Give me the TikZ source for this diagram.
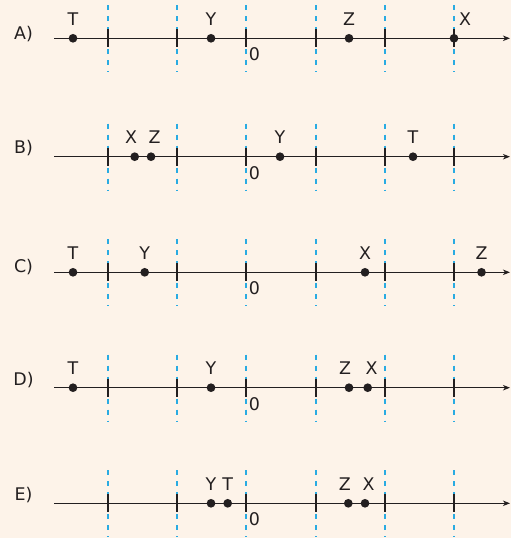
\documentclass[tikz,border=0pt]{standalone}
\usepackage{fontspec}
\setmainfont{DejaVu Sans}
\usetikzlibrary{arrows.meta,positioning}
\definecolor{paper}{HTML}{FDF3E9}
\definecolor{ink}{HTML}{231F20}
\definecolor{guide}{HTML}{29ABE2}
\tikzset{
  axis/.style={-{Stealth[length=7bp,width=5.5bp,inset=2bp]},draw=ink,line width=1.2bp},
  tickmark/.style={draw=ink,line width=1.8bp},
  guideline/.style={draw=guide,line width=1.4bp,dash pattern=on 5bp off 6bp},
  pt/.style={circle,fill=ink,minimum size=8.7bp,inner sep=0pt},
  ptname/.style={font=\fontsize{17.5}{20}\selectfont,text=ink,inner sep=0pt},
  rowname/.style={ptname},
}

\begin{document}
\begin{tikzpicture}[x=1bp,y=-1bp]
\fill[paper] (0,0) rectangle (511,538);
\useasboundingbox (0,0) rectangle (511,538);
% the five number lines
\foreach \r/\y/\ly in {A/38.3/34.2,B/156.7/148.3,C/272.3/266.7,D/387.7/380.5,E/503.3/495.3}{
  \coordinate (\r-left) at (54,\y);
  \coordinate (\r-right) at (510,\y);
  \foreach \t in {108,177,246,316,385,454}
    \draw[guideline] (\t,\y-33) -- (\t,\y+34);
  \draw[axis] (\r-left) -- (\r-right);
  \foreach \t in {108,177,246,316,385,454}
    \draw[tickmark] (\t,\y-9) -- (\t,\y+9);
  \node[ptname] (\r-zero) at (254.5,\y+16) {0};
  \node[rowname] (\r-name) at (23.5,\ly) {\r)};
}
% A
\node[pt] (A-T) at (73,38.3) {};
\node[ptname,above=8bp of A-T] (A-T-name) {T};
\node[pt] (A-Y) at (211,38.3) {};
\node[ptname,above=8bp of A-Y] (A-Y-name) {Y};
\node[pt] (A-Z) at (349,38.3) {};
\node[ptname,above=8bp of A-Z] (A-Z-name) {Z};
\node[pt] (A-X) at (454,38.3) {};
\node[ptname,above=8bp of A-X,xshift=11bp] (A-X-name) {X};
% B
\node[pt] (B-X) at (134.7,156.7) {};
\node[ptname,above=8bp of B-X,xshift=-3.5bp] (B-X-name) {X};
\node[pt] (B-Z) at (151,156.7) {};
\node[ptname,above=8bp of B-Z,xshift=3.5bp] (B-Z-name) {Z};
\node[pt] (B-Y) at (280,156.7) {};
\node[ptname,above=8bp of B-Y] (B-Y-name) {Y};
\node[pt] (B-T) at (413,156.7) {};
\node[ptname,above=8bp of B-T] (B-T-name) {T};
% C
\node[pt] (C-T) at (73,272.3) {};
\node[ptname,above=8bp of C-T] (C-T-name) {T};
\node[pt] (C-Y) at (144.7,272.3) {};
\node[ptname,above=8bp of C-Y] (C-Y-name) {Y};
\node[pt] (C-X) at (365,272.3) {};
\node[ptname,above=8bp of C-X] (C-X-name) {X};
\node[pt] (C-Z) at (481.5,272.3) {};
\node[ptname,above=8bp of C-Z] (C-Z-name) {Z};
% D
\node[pt] (D-T) at (73,387.7) {};
\node[ptname,above=8bp of D-T] (D-T-name) {T};
\node[pt] (D-Y) at (211,387.7) {};
\node[ptname,above=8bp of D-Y] (D-Y-name) {Y};
\node[pt] (D-Z) at (349,387.7) {};
\node[ptname,above=8bp of D-Z,xshift=-4bp] (D-Z-name) {Z};
\node[pt] (D-X) at (367.7,387.7) {};
\node[ptname,above=8bp of D-X,xshift=4bp] (D-X-name) {X};
% E
\node[pt] (E-Y) at (211,503.3) {};
\node[ptname,above=8bp of E-Y] (E-Y-name) {Y};
\node[pt] (E-T) at (227.7,503.3) {};
\node[ptname,above=8bp of E-T] (E-T-name) {T};
\node[pt] (E-Z) at (348.3,503.3) {};
\node[ptname,above=8bp of E-Z,xshift=-3.5bp] (E-Z-name) {Z};
\node[pt] (E-X) at (365,503.3) {};
\node[ptname,above=8bp of E-X,xshift=3.5bp] (E-X-name) {X};
\end{tikzpicture}
\end{document}
